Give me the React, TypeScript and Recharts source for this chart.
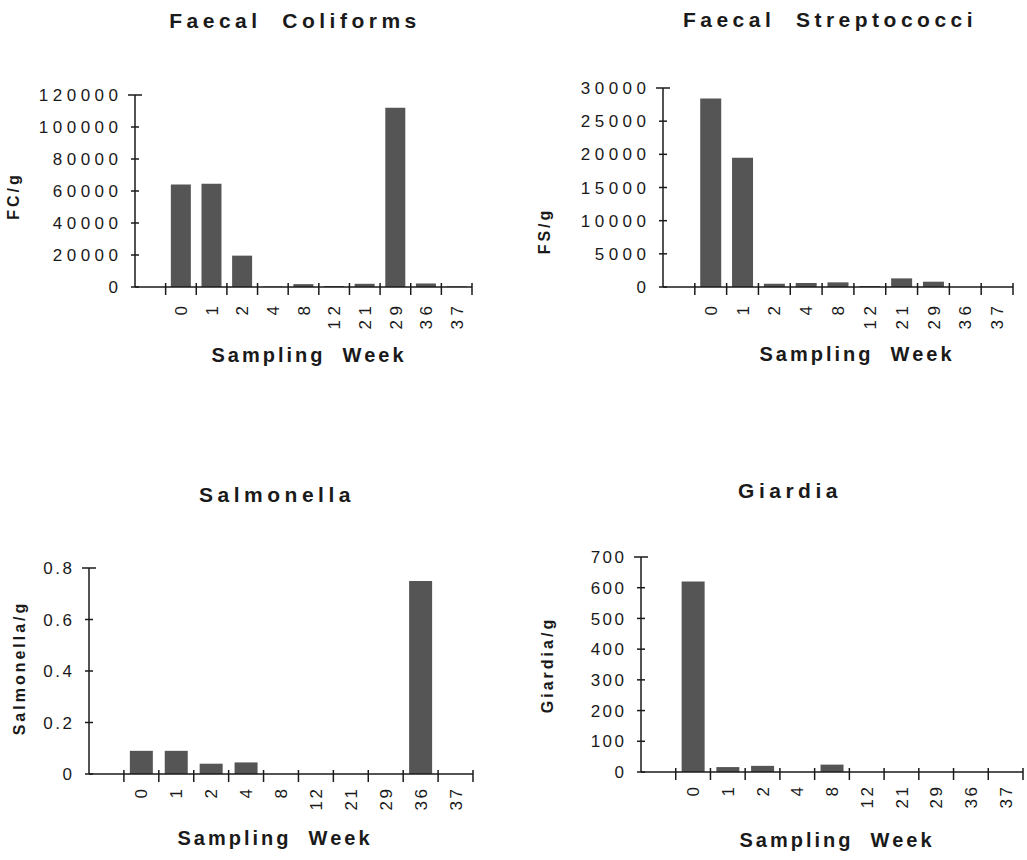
import React from 'react';
import { BarChart, Bar, XAxis, YAxis } from 'recharts';

// sampling weeks shared by all four panels
const weeks = ['0', '1', '2', '4', '8', '12', '21', '29', '36', '37'];

// counts
const coliforms = [64000, 64500, 19600, 300, 1800, 600, 2000, 112000, 2200, 400];
const streptococci = [28400, 19500, 500, 600, 700, 150, 1300, 800, 0, 0];
const salmonella = [0.09, 0.09, 0.04, 0.045, 0, 0, 0, 0, 0.75, 0];
const giardia = [620, 16, 20, 0, 24, 0, 0, 0, 0, 0];

const coliformTicks = [0, 20000, 40000, 60000, 80000, 100000, 120000];
const streptoTicks = [0, 5000, 10000, 15000, 20000, 25000, 30000];
const salmonellaTicks = [0, 0.2, 0.4, 0.6, 0.8];
const giardiaTicks = [0, 100, 200, 300, 400, 500, 600, 700];

const FONT = '"Liberation Sans", Arial, Helvetica, sans-serif';
const INK = '#1a1a1a';
const BAR = '#555555';

type Rect = { l: number; r: number; t: number; b: number };

const Caption = ({ x, y, text, size, spacing, rotate = 0 }: any) => (
    <div
        style={{
            position: 'absolute',
            left: x,
            top: y,
            transform: `translate(-50%, -50%) rotate(${rotate}deg)`,
            whiteSpace: 'pre',
            fontFamily: FONT,
            fontWeight: 'bold',
            fontSize: size,
            letterSpacing: spacing,
            color: INK,
            lineHeight: 1,
        }}
    >
        {text}
    </div>
);

function Panel({ originX, plot, values, ticks, title, yLabel, titleAt, yLabelAt, xLabelAt, numSpacing }: any) {
    const p: Rect = plot;
    const yw = p.l - originX;
    const xh = 80;
    const top = p.t - 20;
    const width = p.r - originX + 4;
    const height = p.b - p.t + 20 + xh;
    const band = (p.r - p.l) / 11;
    const data = weeks.map((w, i) => ({ week: w, value: values[i] }));
    const maxTick = ticks[ticks.length - 1];

    const YTick = ({ x, y, payload }: any) => {
        const ax = x + 17;
        const half = payload.value === maxTick ? 7 : 4;
        return (
            <g>
                <line x1={ax - half} x2={ax + half} y1={y} y2={y} stroke={INK} strokeWidth={1.5} />
                <text x={x + numSpacing} y={y} dy="0.36em" textAnchor="end" fontFamily={FONT} fontSize={17}
                    letterSpacing={numSpacing} fill={INK}>
                    {String(payload.value)}
                </text>
            </g>
        );
    };

    const XTick = ({ x, y, payload, index }: any) => {
        const ay = y - 10;
        return (
            <g>
                {index === 0 && (
                    <line x1={x - band / 2} x2={x - band / 2} y1={ay - 4} y2={ay + 8} stroke={INK} strokeWidth={1.5} />
                )}
                <line x1={x + band / 2} x2={x + band / 2} y1={ay - 4} y2={ay + 8} stroke={INK} strokeWidth={1.5} />
                <text transform={`translate(${x},${y + numSpacing}) rotate(-90)`} textAnchor="end" dy="0.36em"
                    fontFamily={FONT} fontSize={17} letterSpacing={numSpacing} fill={INK}>
                    {payload.value}
                </text>
            </g>
        );
    };

    return (
        <>
            <div style={{ position: 'absolute', left: originX, top }}>
                <BarChart width={width} height={height} data={data} barCategoryGap="17%"
                    margin={{ top: 20, right: 4, bottom: 0, left: 0 }}>
                    <XAxis dataKey="week" type="category" height={xh} interval={0} padding={{ left: band, right: 0 }}
                        axisLine={{ stroke: INK, strokeWidth: 1.5 }} tickLine={false} tickSize={4} tickMargin={6}
                        tick={<XTick />} />
                    <YAxis type="number" width={yw} domain={[0, maxTick]} ticks={ticks} interval={0}
                        allowDataOverflow axisLine={{ stroke: INK, strokeWidth: 1.5 }} tickLine={false}
                        tickSize={4} tickMargin={13} tick={<YTick />} />
                    <Bar dataKey="value" fill={BAR} isAnimationActive={false} />
                </BarChart>
            </div>
            <Caption x={titleAt[0]} y={titleAt[1]} text={title} size={21} spacing={4.5} />
            <Caption x={yLabelAt[0]} y={yLabelAt[1]} text={yLabel} size={16} spacing={3} rotate={-90} />
            <Caption x={xLabelAt[0]} y={xLabelAt[1]} text={'Sampling  Week'} size={20} spacing={3} />
        </>
    );
}

export default function App() {
    return (
        <div style={{ position: 'absolute', left: 0, top: 0, width: 1027, height: 860, background: '#fff', overflow: 'hidden' }}>
            <Panel originX={0} plot={{ l: 135, r: 472, t: 95, b: 287 }} values={coliforms} ticks={coliformTicks}
                title={'Faecal  Coliforms'} yLabel="FC/g" titleAt={[295, 20]} yLabelAt={[14, 196]} xLabelAt={[309, 355]}
                numSpacing={4.5} />
            <Panel originX={520} plot={{ l: 663, r: 1013, t: 88, b: 287 }} values={streptococci} ticks={streptoTicks}
                title={'Faecal  Streptococci'} yLabel="FS/g" titleAt={[830, 19]} yLabelAt={[545, 231]} xLabelAt={[857, 354]}
                numSpacing={4.5} />
            <Panel originX={0} plot={{ l: 89, r: 473, t: 568, b: 774 }} values={salmonella} ticks={salmonellaTicks}
                title="Salmonella" yLabel="Salmonella/g" titleAt={[277, 494]} yLabelAt={[20, 668]} xLabelAt={[275, 838]}
                numSpacing={2.5} />
            <Panel originX={520} plot={{ l: 641, r: 1023, t: 557, b: 772 }} values={giardia} ticks={giardiaTicks}
                title="Giardia" yLabel="Giardia/g" titleAt={[790, 490]} yLabelAt={[548, 665]} xLabelAt={[837, 840]}
                numSpacing={2.5} />
        </div>
    );
}
